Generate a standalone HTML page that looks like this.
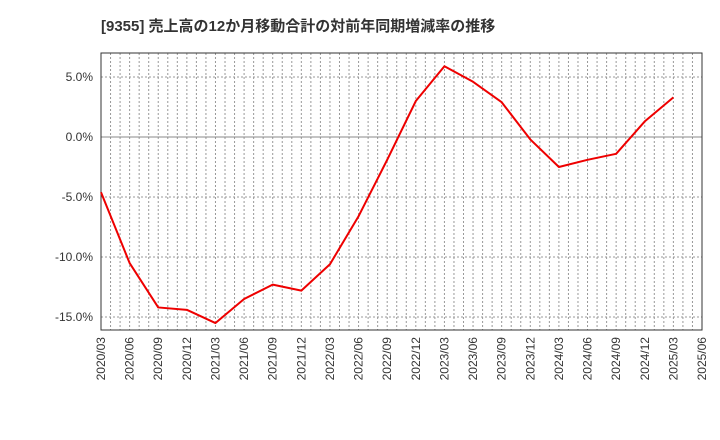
<!DOCTYPE html>
<html><head><meta charset="utf-8"><style>
body{margin:0;background:#fff;}
svg{display:block;font-family:"Liberation Sans","Noto Sans CJK JP",sans-serif;}
</style></head><body>
<svg id="c" width="720" height="440">
<text x="101" y="31" font-size="15" font-weight="bold" fill="#333">[9355]  売上高の12か月移動合計の対前年同期増減率の推移</text>
</svg>
<script>
const categories=["2020/03","2020/06","2020/09","2020/12","2021/03","2021/06","2021/09","2021/12","2022/03","2022/06","2022/09","2022/12","2023/03","2023/06","2023/09","2023/12","2024/03","2024/06","2024/09","2024/12","2025/03","2025/06"];
const values=[-4.6,-10.5,-14.2,-14.4,-15.5,-13.5,-12.3,-12.8,-10.6,-6.6,-1.9,3.0,5.9,4.6,2.9,-0.2,-2.5,-1.9,-1.4,1.3,3.3];
const yTicks=[5,0,-5,-10,-15];
const yTickLabels=["5.0%","0.0%","-5.0%","-10.0%","-15.0%"];
const NS="http://www.w3.org/2000/svg";
const svg=document.getElementById('c');
const L=101,R=702,T=53,B=330;
const yMin=-16.08,yMax=7.0;
const nQ=categories.length-1;
function xs(i){return L+(R-L)*i/nQ;}
function ys(v){return B-(v-yMin)/(yMax-yMin)*(B-T);}
function mk(t,a){const e=document.createElementNS(NS,t);for(const k in a)e.setAttribute(k,a[k]);svg.appendChild(e);return e;}
// monthly vertical grid
for(let m=1;m<nQ*3;m++){const x=L+(R-L)*m/(nQ*3);
const g=mk('line',{x1:x,x2:x,y1:T,y2:B,stroke:'#999','stroke-width':1,'stroke-dasharray':'2,2'});

}
yTicks.forEach((v,i)=>{const y=ys(v);
const g=mk('line',{x1:L,x2:R,y1:y,y2:y,stroke:v===0?'#888':'#999','stroke-width':1,'stroke-dasharray':v===0?'none':'2,2'});


const t=mk('text',{x:L-8,y:y+4,'font-size':12,'text-anchor':'end',fill:'#333'});t.textContent=yTickLabels[i];

});
categories.forEach((c,i)=>{const x=xs(i);
const t=mk('text',{x:0,y:0,'font-size':12,'text-anchor':'end',fill:'#333',transform:`translate(${x+4},${B+7}) rotate(-90)`});t.textContent=c;

});
const fr=mk('rect',{x:L,y:T,width:R-L,height:B-T,fill:'none',stroke:'#333','stroke-width':1});


const p=mk('polyline',{points:values.map((v,i)=>xs(i)+','+ys(v)).join(' '),fill:'none',stroke:'#e00','stroke-width':2,'stroke-linejoin':'round'});


</script>
</body></html>
